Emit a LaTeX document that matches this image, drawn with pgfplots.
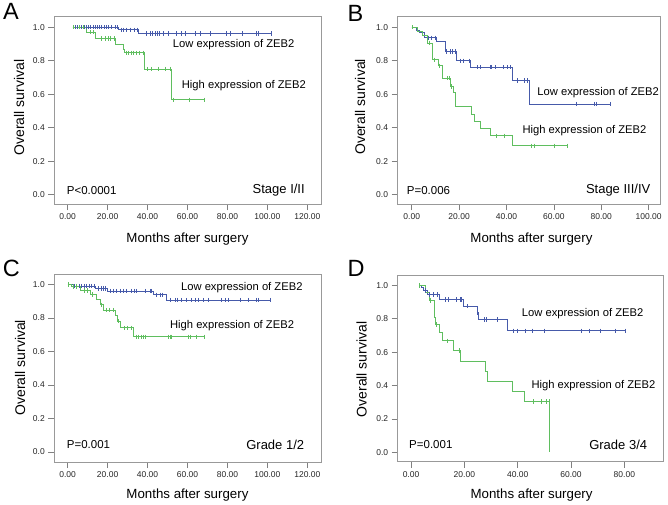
\documentclass[border=0pt]{standalone}
\usepackage{fontspec}
\setmainfont{Liberation Sans}
\usepackage{pgfplots}
\pgfplotsset{compat=1.18}
\definecolor{kmblue}{RGB}{70,90,170}
\definecolor{kmgreen}{RGB}{95,190,95}
\newcommand\curvelab{\fontsize{11.2bp}{13bp}\selectfont}
\newcommand\plab{\fontsize{11.5bp}{13bp}\selectfont}
\newcommand\glab{\fontsize{13bp}{15bp}\selectfont}
\newcommand\panel{\fontsize{23.5bp}{26bp}\selectfont}
\pgfplotsset{
  km/.style={
    scale only axis,
    axis line style={draw=black!40, line width=0.7bp},
    tick style={draw=black!50, line width=0.6bp},
    major tick length=6bp,
    tick align=outside,
    xtick pos=left, ytick pos=left,
    ytick={0,0.2,0.4,0.6,0.8,1.0},
    tick label style={font=\fontsize{8.5bp}{10bp}\selectfont, text=black!85},
    /pgf/number format/assume math mode=true,
    yticklabel style={/pgf/number format/.cd, fixed, fixed zerofill, precision=1},
    xticklabel style={/pgf/number format/.cd, fixed, fixed zerofill, precision=2},
    xlabel={Months after surgery},
    ylabel={Overall survival},
    xlabel style={font=\fontsize{13.3bp}{15bp}\selectfont, anchor=center},
    ylabel style={font=\fontsize{14bp}{16bp}\selectfont, anchor=center},
  },
  kmline/.style={const plot, no marks, line width=0.9bp},
  kmcens/.style={only marks, mark=|, mark size=2.2bp, mark options={line width=0.6bp}},
}
\begin{document}
\begin{tikzpicture}
\useasboundingbox (0,0) rectangle (668bp,505bp);

% ---------------- Panel A ----------------
\begin{axis}[km, at={(54.3bp,300.5bp)}, anchor=south west,
  width=267.4bp, height=187.8bp,
  xmin=-6.7, xmax=127.2, ymin=-0.058, ymax=1.063,
  xtick={0,20,40,60,80,100,120},
  ylabel style={at={(axis description cs:-0.132,0.516)}},
  xlabel style={at={(axis description cs:0.498,-0.185)}}]
\addplot[kmline, kmblue] coordinates {(2.5,1.0) (25.4,0.985) (35.4,0.963) (102.2,0.963)};
\addplot[kmcens, kmblue] coordinates {
(2.8,1) (3.8,1) (4.8,1) (6.0,1) (7.0,1) (8.2,1) (9.2,1) (10.4,1) (11.5,1) (12.6,1) (13.7,1) (14.8,1) (15.9,1) (17.0,1) (18.2,1) (19.3,1) (20.4,1) (22.0,1) (23.7,1) (24.9,1)
(27.0,0.985) (28.1,0.985) (29.2,0.985) (31.6,0.985) (33.2,0.985) (34.9,0.985)
(39.6,0.963) (41.2,0.963) (42.6,0.963) (43.7,0.963) (44.9,0.963) (45.9,0.963) (48.0,0.963) (50.4,0.963) (54.6,0.963) (57.1,0.963) (58.8,0.963) (63.8,0.963) (66.3,0.963) (71.3,0.963) (79.6,0.963) (81.3,0.963) (87.6,0.963) (94.7,0.963) (95.5,0.963) (102.2,0.963)};
\addplot[kmline, kmgreen] coordinates {(2.5,1.0) (9.3,0.970) (13.9,0.934) (23.7,0.898) (27.9,0.870) (28.6,0.848) (38.4,0.750) (52.1,0.567) (68.3,0.567)};
\addplot[kmcens, kmgreen] coordinates {
(3.0,1) (6.0,1) (8.0,1)
(11.5,0.970) (12.8,0.970)
(17.0,0.934) (18.7,0.934) (20.4,0.934) (21.2,0.934) (23.2,0.934)
(29.3,0.848) (30.5,0.848) (31.7,0.848) (32.8,0.848) (34.3,0.848) (35.9,0.848) (37.9,0.848)
(40.0,0.750) (42.0,0.750) (45.5,0.750) (49.0,0.750) (51.3,0.750)
(52.8,0.567) (60.8,0.567) (68.3,0.567)};
\node[anchor=west, inner sep=0pt, font=\curvelab] at (axis cs:52.6,0.898) {Low expression of ZEB2};
\node[anchor=west, inner sep=0pt, font=\curvelab] at (axis cs:57.1,0.649) {High expression of ZEB2};
\node[anchor=west, inner sep=0pt, font=\plab] at (axis cs:-0.5,0.028) {P<0.0001};
\node[anchor=east, inner sep=0pt, font=\glab] at (axis cs:118.8,0.028) {Stage I/II};
\end{axis}

% ---------------- Panel B ----------------
\begin{axis}[km, at={(397.5bp,300.5bp)}, anchor=south west,
  width=263.2bp, height=187.8bp,
  xmin=-6.0, xmax=105.1, ymin=-0.058, ymax=1.063,
  xtick={0,20,40,60,80,100},
  ylabel style={at={(axis description cs:-0.142,0.52)}},
  xlabel style={at={(axis description cs:0.509,-0.185)}}]
\addplot[kmline, kmblue] coordinates {(0,1.0) (2.1,0.980) (3.1,0.966) (5.3,0.937) (10.5,0.913) (14.1,0.856) (19.0,0.800) (25.0,0.761) (42.5,0.681) (49.6,0.542) (83.9,0.542)};
\addplot[kmcens, kmblue] coordinates {
(7.0,0.937) (8.1,0.937) (10.1,0.937)
(14.8,0.856) (16.2,0.856) (17.1,0.856) (18.3,0.856)
(20.4,0.800) (21.8,0.800) (24.2,0.800)
(27.8,0.761) (28.8,0.761) (33.0,0.761) (33.7,0.761) (35.1,0.761) (38.7,0.761) (40.5,0.761) (41.5,0.761)
(44.7,0.681) (47.5,0.681) (48.9,0.681)
(69.6,0.542) (76.9,0.542) (78.0,0.542) (83.9,0.542)};
\addplot[kmline, kmgreen] coordinates {(0,1.0) (2.4,0.976) (4.5,0.952) (6.8,0.905) (8.7,0.805) (11.1,0.769) (12.9,0.696) (16.4,0.646) (17.6,0.610) (18.5,0.527) (25.2,0.477) (26.5,0.438) (29.2,0.398) (33.3,0.352) (42.6,0.292) (65.6,0.292)};
\addplot[kmcens, kmgreen] coordinates {
(0.3,1.0) (7.3,0.905) (9.4,0.805) (11.5,0.769) (15.0,0.696) (15.7,0.696) (16.7,0.646)
(35.8,0.352) (38.9,0.352)
(50.4,0.292) (51.8,0.292) (60.2,0.292) (65.6,0.292)};
\node[anchor=west, inner sep=0pt, font=\curvelab] at (axis cs:53.0,0.612) {Low expression of ZEB2};
\node[anchor=west, inner sep=0pt, font=\curvelab] at (axis cs:46.7,0.381) {High expression of ZEB2};
\node[anchor=west, inner sep=0pt, font=\plab] at (axis cs:-2.1,0.028) {P=0.006};
\node[anchor=east, inner sep=0pt, font=\glab] at (axis cs:100.8,0.028) {Stage III/IV};
\end{axis}

% ---------------- Panel C ----------------
\begin{axis}[km, at={(54.3bp,43bp)}, anchor=south west,
  width=267.4bp, height=187.7bp,
  xmin=-6.7, xmax=127.2, ymin=-0.060, ymax=1.060,
  xtick={0,20,40,60,80,100,120},
  ylabel style={at={(axis description cs:-0.128,0.502)}},
  xlabel style={at={(axis description cs:0.498,-0.177)}}]
\addplot[kmline, kmblue] coordinates {(1.5,1.0) (2.8,0.990) (14.0,0.975) (19.8,0.960) (42.8,0.937) (49.3,0.906) (101.5,0.906)};
\addplot[kmcens, kmblue] coordinates {
(3.3,0.990) (4.5,0.990) (5.7,0.990) (7.0,0.990) (8.3,0.990) (9.5,0.990) (10.7,0.990) (12.0,0.990) (13.3,0.990)
(15.3,0.975) (16.7,0.975) (17.8,0.975) (18.7,0.975)
(21.2,0.960) (22.8,0.960) (24.5,0.960) (26.2,0.960) (27.9,0.960) (29.5,0.960) (32.0,0.960) (33.4,0.960) (34.5,0.960) (38.7,0.960) (41.2,0.960) (42.0,0.960)
(44.5,0.937) (46.2,0.937) (47.4,0.937)
(51.2,0.906) (53.7,0.906) (55.1,0.906) (56.7,0.906) (59.6,0.906) (62.1,0.906) (63.7,0.906) (65.4,0.906) (67.9,0.906) (70.4,0.906) (77.1,0.906) (78.8,0.906) (80.4,0.906) (86.3,0.906) (90.5,0.906) (94.6,0.906) (95.5,0.906) (101.5,0.906)};
\addplot[kmline, kmgreen] coordinates {(0,1.0) (2.0,0.988) (6.5,0.964) (11.5,0.940) (14.5,0.910) (16.2,0.878) (18.0,0.847) (23.7,0.812) (24.8,0.780) (26.5,0.740) (33.0,0.687) (68.3,0.687)};
\addplot[kmcens, kmgreen] coordinates {
(0.3,1.0) (3.0,0.988) (4.5,0.988) (8.5,0.964) (10.0,0.964) (12.5,0.940) (17.0,0.878)
(19.5,0.847) (21.0,0.847) (23.0,0.847) (25.5,0.780) (28.5,0.740) (30.0,0.740) (32.0,0.740)
(34.5,0.687) (35.4,0.687) (36.7,0.687) (37.9,0.687) (39.0,0.687) (50.4,0.687) (51.2,0.687) (52.1,0.687) (60.4,0.687) (61.2,0.687) (64.6,0.687) (68.3,0.687)};
\node[anchor=west, inner sep=0pt, font=\curvelab] at (axis cs:56.7,0.98) {Low expression of ZEB2};
\node[anchor=west, inner sep=0pt, font=\curvelab] at (axis cs:51.2,0.755) {High expression of ZEB2};
\node[anchor=west, inner sep=0pt, font=\plab] at (axis cs:-0.5,0.044) {P=0.001};
\node[anchor=east, inner sep=0pt, font=\glab] at (axis cs:118.5,0.044) {Grade 1/2};
\end{axis}

% ---------------- Panel D ----------------
\begin{axis}[km, at={(397.7bp,43.3bp)}, anchor=south west,
  width=265.6bp, height=186.4bp,
  xmin=-5.0, xmax=94.6, ymin=-0.056, ymax=1.060,
  xtick={0,20,40,60,80},
  ylabel style={at={(axis description cs:-0.136,0.495)}},
  xlabel style={at={(axis description cs:0.504,-0.18)}}]
\addplot[kmline, kmblue] coordinates {(3.0,1.0) (3.8,0.985) (4.8,0.970) (6.3,0.945) (10.5,0.915) (19.6,0.875) (24.8,0.835) (25.4,0.795) (36.0,0.727) (80.5,0.727)};
\addplot[kmcens, kmblue] coordinates {
(3.0,1.0) (5.2,0.970) (7.0,0.945) (8.5,0.945) (10.0,0.945)
(12.8,0.915) (14.0,0.915) (17.0,0.915) (18.5,0.915) (19.0,0.915) (21.0,0.875) (25.0,0.835)
(27.5,0.795) (28.2,0.795) (32.3,0.795)
(38.5,0.727) (39.8,0.727) (42.8,0.727) (45.5,0.727) (50.0,0.727) (64.0,0.727) (67.0,0.727) (71.0,0.727) (76.5,0.727) (80.5,0.727)};
\addplot[kmline, kmgreen] coordinates {(3.0,1.0) (5.5,0.955) (6.8,0.910) (8.6,0.810) (9.2,0.765) (10.8,0.720) (11.7,0.667) (16.0,0.610) (18.5,0.547) (28.0,0.487) (28.8,0.425) (38.2,0.365) (42.4,0.304) (52.0,0.0)};
\addplot[kmcens, kmgreen] coordinates {
(3.0,1.0) (7.3,0.910) (9.6,0.765) (13.5,0.667) (18.0,0.610)
(45.8,0.304) (48.9,0.304) (50.8,0.304) (51.8,0.304)};
\node[anchor=west, inner sep=0pt, font=\curvelab] at (axis cs:41.5,0.833) {Low expression of ZEB2};
\node[anchor=west, inner sep=0pt, font=\curvelab] at (axis cs:45.1,0.40) {High expression of ZEB2};
\node[anchor=west, inner sep=0pt, font=\plab] at (axis cs:-0.75,0.045) {P=0.001};
\node[anchor=east, inner sep=0pt, font=\glab] at (axis cs:88.6,0.042) {Grade 3/4};
\end{axis}

% panel letters
\node[anchor=base west, inner sep=0pt, font=\panel] at (3bp,485bp) {A};
\node[anchor=base west, inner sep=0pt, font=\panel] at (347.3bp,483.3bp) {B};
\node[anchor=base west, inner sep=0pt, font=\panel] at (2.7bp,228bp) {C};
\node[anchor=base west, inner sep=0pt, font=\panel] at (347.3bp,228bp) {D};
\end{tikzpicture}
\end{document}
